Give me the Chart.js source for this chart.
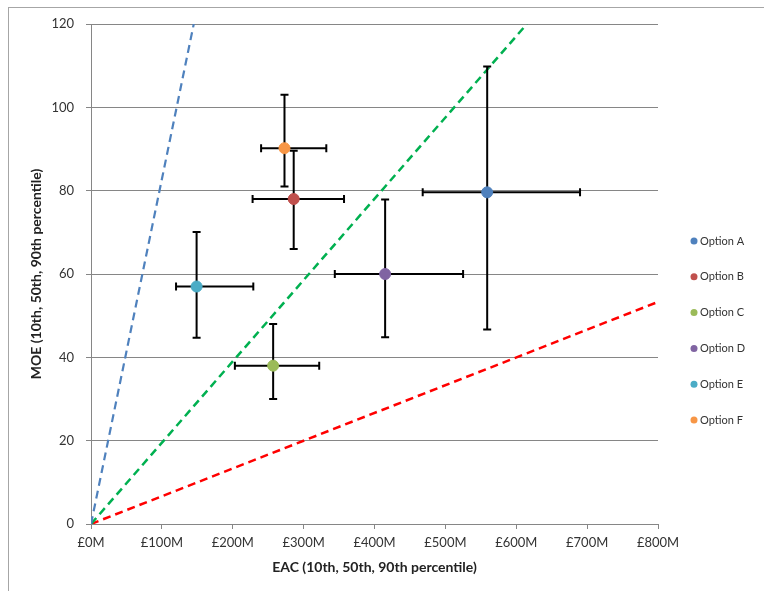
<!DOCTYPE html>
<html>
<head>
<meta charset="utf-8">
<script src="https://cdn.jsdelivr.net/npm/chart.js@4.4.0/dist/chart.umd.min.js"></script>
<style>
  body { margin: 0; background: #fff; }
  #wrap { position: relative; width: 764px; height: 591px; }
  #frame { position: absolute; left: 8px; top: 7px; right: 0; bottom: 0; border-left: 1px solid #a6a6a6; border-top: 1px solid #a6a6a6; }
  #myChart { position: absolute; left: 0; top: 0; }
</style>
</head>
<body>
<div id="wrap">
  <div id="frame"></div>
  <canvas id="myChart" width="764" height="591"></canvas>
</div>
<script>
// options and their percentiles (EAC in £M, MOE)
const options = ['Option A', 'Option B', 'Option C', 'Option D', 'Option E', 'Option F'];
const colors = ['#4F81BD', '#C0504D', '#9BBB59', '#8064A2', '#4BACC6', '#F79646'];
const eacP50 = [559, 286, 257, 415, 149, 273];
const eacP10 = [468, 228, 203, 344, 120, 240];
const eacP90 = [690, 357, 322, 525, 229, 332];
const moeP50 = [79.6, 78, 38, 60, 57, 90.2];
const moeP10 = [46.7, 66, 30, 44.8, 44.7, 81];
const moeP90 = [109.8, 89.6, 48, 77.9, 70.1, 103];

// dashed reference lines from the origin
const blueLine = [{x: 0, y: 0}, {x: 145, y: 120}];
const greenLine = [{x: 0, y: 0}, {x: 615, y: 120}];
const redLine = [{x: 0, y: 0}, {x: 800, y: 53.3}];

const FONT = 'Lato, "Open Sans", sans-serif';

const datasets = options.map((name, i) => ({
    label: name,
    data: [{x: eacP50[i], y: moeP50[i]}],
    backgroundColor: colors[i],
    borderColor: colors[i],
    pointRadius: 5.5,
    order: 1
}));

[[blueLine, '#4F81BD', 2.2], [greenLine, '#00B050', 2.5], [redLine, '#FF0000', 2.5]].forEach(l => {
    datasets.push({
        label: '',
        data: l[0],
        showLine: true,
        borderColor: l[1],
        borderWidth: l[2],
        borderDash: [8, 5],
        pointRadius: 0,
        order: 2
    });
});

// error bars drawn before the option markers
let barsDrawn = false;
const errorBars = {
    id: 'errorBars',
    beforeDraw() { barsDrawn = false; },
    beforeDatasetDraw(chart, args) {
        if (barsDrawn || args.index >= options.length) return;
        barsDrawn = true;
        const ctx = chart.ctx;
        const xs = chart.scales.x, ys = chart.scales.y;
        const cap = 4;
        ctx.save();
        ctx.strokeStyle = '#000';
        ctx.lineWidth = 2;
        options.forEach((o, i) => {
            const cx = xs.getPixelForValue(eacP50[i]);
            const cy = ys.getPixelForValue(moeP50[i]);
            const x1 = xs.getPixelForValue(eacP10[i]);
            const x2 = xs.getPixelForValue(eacP90[i]);
            const y1 = ys.getPixelForValue(moeP10[i]);
            const y2 = ys.getPixelForValue(moeP90[i]);
            ctx.beginPath();
            ctx.moveTo(x1, cy); ctx.lineTo(x2, cy);
            ctx.moveTo(x1, cy - cap); ctx.lineTo(x1, cy + cap);
            ctx.moveTo(x2, cy - cap); ctx.lineTo(x2, cy + cap);
            ctx.moveTo(cx, y1); ctx.lineTo(cx, y2);
            ctx.moveTo(cx - cap, y1); ctx.lineTo(cx + cap, y1);
            ctx.moveTo(cx - cap, y2); ctx.lineTo(cx + cap, y2);
            ctx.stroke();
        });
        ctx.restore();
    }
};

// legend on the right
const sideLegend = {
    id: 'sideLegend',
    afterDraw(chart) {
        const ctx = chart.ctx;
        ctx.save();
        ctx.font = '11px ' + FONT;
        ctx.textBaseline = 'middle';
        options.forEach((name, i) => {
            const y = 241 + i * 35.8;
            ctx.fillStyle = colors[i];
            ctx.beginPath();
            ctx.arc(694, y, 3.5, 0, Math.PI * 2);
            ctx.fill();
            ctx.fillStyle = '#333';
            ctx.fillText(name, 700, y);
        });
        ctx.restore();
    }
};

const ctx = document.getElementById('myChart').getContext('2d');
const myChart = new Chart(ctx, {
    type: 'scatter',
    data: { datasets: datasets },
    plugins: [errorBars, sideLegend],
    options: {
        responsive: false,
        animation: false,
        layout: { padding: { top: 24, right: 106, left: 0, bottom: 0 } },
        plugins: {
            legend: { display: false },
            tooltip: { enabled: false }
        },
        scales: {
            x: {
                type: 'linear',
                min: 0,
                max: 800,
                afterFit: s => { s.height = 67; },
                grid: { drawOnChartArea: false, drawTicks: true, tickLength: 5, color: '#868686' },
                border: { color: '#868686' },
                ticks: {
                    stepSize: 100,
                    padding: 6,
                    color: '#333',
                    font: { family: FONT, size: 13 },
                    callback: v => '£' + v + 'M'
                },
                title: {
                    display: true,
                    text: 'EAC (10th, 50th, 90th percentile)',
                    color: '#222',
                    font: { family: FONT, size: 14, weight: 'bold' },
                    padding: { top: 0, bottom: 15.5 }
                }
            },
            y: {
                min: 0,
                max: 120,
                afterFit: s => { s.width = 91; },
                grid: { color: '#868686', tickLength: 5 },
                border: { color: '#868686' },
                ticks: {
                    stepSize: 20,
                    padding: 12,
                    color: '#333',
                    font: { family: FONT, size: 13 }
                },
                title: {
                    display: true,
                    text: 'MOE (10th, 50th, 90th percentile)',
                    color: '#222',
                    font: { family: FONT, size: 14, weight: 'bold' },
                    padding: { top: 28.5, bottom: 0 }
                }
            }
        }
    }
});
</script>
</body>
</html>
